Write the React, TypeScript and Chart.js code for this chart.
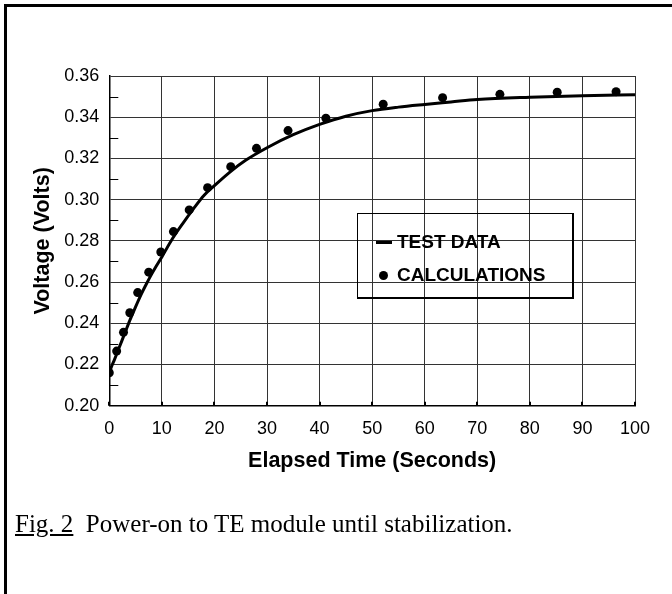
import React, { useEffect, useRef } from "react";
import { Chart, registerables } from "chart.js";

Chart.register(...registerables);

// ---- data ----
const testTime = [0, 0.5, 1, 2, 3, 4, 5, 6, 7, 8, 9, 10, 12, 14, 16, 18, 20, 23, 26, 30, 35, 40, 45, 50, 55, 60, 65, 70, 80, 90, 100];
const testVolt = [0.216, 0.2195, 0.2225, 0.229, 0.2355, 0.242, 0.248, 0.2537, 0.2588, 0.2636, 0.268, 0.2722, 0.281, 0.2885, 0.2955, 0.302, 0.3068, 0.3135, 0.3192, 0.3252, 0.3315, 0.3365, 0.3405, 0.3432, 0.3449, 0.3462, 0.3474, 0.3486, 0.3497, 0.3504, 0.3509];

const calcTime = [0, 1.4, 2.7, 3.9, 5.4, 7.5, 9.8, 12.2, 15.2, 18.7, 23.1, 28, 34, 41.2, 52.1, 63.4, 74.3, 85.2, 96.4];
const calcVolt = [0.216, 0.2265, 0.2356, 0.2451, 0.2549, 0.2648, 0.2746, 0.2845, 0.295, 0.3058, 0.316, 0.3249, 0.3335, 0.3395, 0.3463, 0.3495, 0.3511, 0.3521, 0.3524];

const xMin = 0;
const xMax = 100;
const xStep = 10;
const yMin = 0.2;
const yMax = 0.36;
const yStep = 0.02;

const seriesNames = ["TEST DATA", "CALCULATIONS"];
const xTitle = "Elapsed Time (Seconds)";
const yTitle = "Voltage (Volts)";
const captionFig = "Fig. 2";
const captionText = "Power-on to TE module until stabilization.";

const SANS = "'Liberation Sans', Arial, Helvetica, sans-serif";
const SERIF = "'Liberation Serif', 'Times New Roman', serif";

const tickMarksPlugin = {
  id: "tickMarks",
  beforeDatasetsDraw(chart: any) {
    const { ctx, chartArea, scales } = chart;
    const y = scales.y;
    const x = scales.x;
    ctx.save();
    ctx.strokeStyle = "#000";
    ctx.lineWidth = 1;
    const yv = y.ticks.map((t: any) => t.value);
    for (let i = 0; i < yv.length - 1; i++) {
      const v = (yv[i] + yv[i + 1]) / 2;
      const py = Math.round(y.getPixelForValue(v)) + 0.5;
      ctx.beginPath();
      ctx.moveTo(chartArea.left, py);
      ctx.lineTo(chartArea.left + 9, py);
      ctx.stroke();
    }
    ctx.lineWidth = 2;
    for (const t of x.ticks) {
      const px = Math.round(x.getPixelForValue(t.value));
      ctx.beginPath();
      ctx.moveTo(px, chartArea.bottom);
      ctx.lineTo(px, chartArea.bottom - 4);
      ctx.stroke();
    }
    ctx.restore();
  },
};

function VoltChart() {
  const ref = useRef<HTMLCanvasElement>(null);
  useEffect(() => {
    if (!ref.current) return;
    const chart = new Chart(ref.current, {
      type: "scatter",
      data: {
        datasets: [
          {
            label: seriesNames[0],
            data: testTime.map((t, i) => ({ x: t, y: testVolt[i] })),
            showLine: true,
            borderColor: "#000",
            borderWidth: 3,
            pointRadius: 0,
            cubicInterpolationMode: "monotone",
          },
          {
            label: seriesNames[1],
            data: calcTime.map((t, i) => ({ x: t, y: calcVolt[i] })),
            showLine: false,
            pointRadius: 4.5,
            pointBackgroundColor: "#000",
            pointBorderColor: "#000",
            pointBorderWidth: 0,
          },
        ],
      },
      options: {
        animation: false,
        responsive: false,
        devicePixelRatio: 1,
        layout: { padding: { left: 0, top: 76, right: 37, bottom: 118.3 } },
        plugins: {
          legend: { display: false },
          tooltip: { enabled: false },
        },
        scales: {
          x: {
            type: "linear",
            min: xMin,
            max: xMax,
            afterFit: (s: any) => {
              s.height = 70;
            },
            ticks: {
              stepSize: xStep,
              color: "#000",
              padding: 13,
              font: { family: SANS, size: 18 },
              maxRotation: 0,
            },
            grid: { color: "#333", lineWidth: 1, drawTicks: false },
            border: { display: true, color: "#000", width: 1.5 },
            title: {
              display: true,
              text: xTitle,
              color: "#000",
              font: { family: SANS, size: 21.5, weight: "bold" },
              padding: { top: 0, bottom: 2 },
            },
          },
          y: {
            type: "linear",
            min: yMin,
            max: yMax,
            afterFit: (s: any) => {
              s.width = 109.3;
            },
            ticks: {
              stepSize: yStep,
              color: "#000",
              padding: 10,
              font: { family: SANS, size: 18 },
              callback: (v: any) => Number(v).toFixed(2),
            },
            grid: { color: "#333", lineWidth: 1, drawTicks: false },
            border: { display: true, color: "#000", width: 1.5 },
            title: {
              display: true,
              text: yTitle,
              color: "#000",
              font: { family: SANS, size: 21.5, weight: "bold" },
              padding: { top: 30, bottom: 0 },
            },
          },
        },
      },
      plugins: [tickMarksPlugin],
    } as any);
    return () => chart.destroy();
  }, []);
  return <canvas ref={ref} width={672} height={594} style={{ position: "absolute", left: 0, top: 0, width: 672, height: 594 }} />;
}

export default function App() {
  const legendText: React.CSSProperties = {
    position: "absolute",
    left: 397,
    height: 20,
    lineHeight: "20px",
    fontFamily: SANS,
    fontWeight: "bold",
    fontSize: 19,
    color: "#000",
    whiteSpace: "nowrap",
  };
  return (
    <div style={{ position: "absolute", left: 0, top: 0, width: 672, height: 594, background: "#fff", overflow: "hidden" }}>
      <div
        style={{
          position: "absolute",
          left: 4,
          top: 4,
          width: 668,
          height: 590,
          borderTop: "3px solid #000",
          borderLeft: "3px solid #000",
          boxSizing: "border-box",
        }}
      />
      <VoltChart />
      {/* legend */}
      <div
        style={{
          position: "absolute",
          left: 357,
          top: 213,
          width: 217,
          height: 86,
          borderStyle: "solid",
          borderColor: "#000",
          borderWidth: "1.5px 2.5px 2px 1.5px",
          boxSizing: "border-box",
        }}
      />
      <div style={{ position: "absolute", left: 376, top: 241, width: 16, height: 3, background: "#000" }} />
      <div style={{ ...legendText, top: 232 }}>{seriesNames[0]}</div>
      <div style={{ position: "absolute", left: 379, top: 271, width: 9, height: 9, borderRadius: "50%", background: "#000" }} />
      <div style={{ ...legendText, top: 265 }}>{seriesNames[1]}</div>
      {/* caption */}
      <div
        style={{
          position: "absolute",
          left: 15,
          top: 509,
          height: 30,
          lineHeight: "30px",
          fontFamily: SERIF,
          fontSize: 25,
          color: "#000",
          whiteSpace: "nowrap",
        }}
      >
        <span style={{ textDecoration: "underline" }}>{captionFig}</span>
        {"\u00a0\u00a0"}
        {captionText}
      </div>
    </div>
  );
}
